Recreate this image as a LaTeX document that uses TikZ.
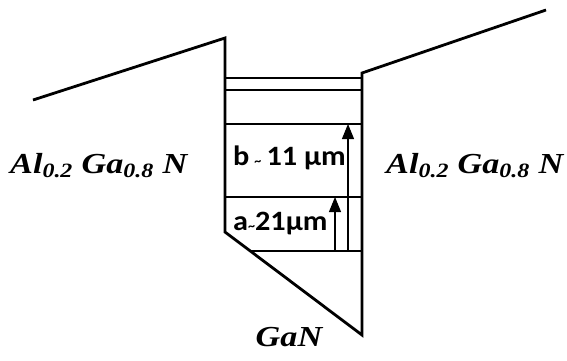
\documentclass[tikz,border=0pt]{standalone}
\usepackage{graphicx}
\usepackage{fontspec}
\setmainfont{Liberation Serif}
\newfontfamily\calfont{Carlito}
\usetikzlibrary{arrows.meta,positioning,calc}
\newcommand{\tld}{{\fontsize{13}{13}\selectfont\textasciitilde}}
\newcommand{\wide}[2][1.18]{\scalebox{#1}[1]{#2}}

\begin{document}
\begin{tikzpicture}[x=1pt,y=-1pt,
  band/.style={line width=2.8pt,line join=miter},
  level/.style={line width=1.1pt},
  arr/.style={-{Triangle[length=15pt,width=12pt]},line width=1.1pt},
  alloy/.style={font=\fontsize{29}{32}\selectfont\bfseries\itshape,inner sep=0pt,anchor=base west},
  depth/.style={font=\calfont\fontsize{28}{30}\selectfont\bfseries,inner sep=0pt,anchor=base west}
]
\useasboundingbox (0,0) rectangle (567,360);
% band edge profile
\coordinate (lo) at (33,100);
\coordinate (lt) at (225,38);
\coordinate (lb) at (225,232);
\coordinate (rb) at (362,335);
\coordinate (rt) at (362,73);
\coordinate (ro) at (546,10);
\draw[band] (lo)--(lt)--(lb)--(rb)--(rt)--(ro);
% levels in the well
\foreach \y in {78,90,124,197}
  \draw[level] (lt |- 0,\y) -- (rt |- 0,\y);
\path (lb) -- (rb) coordinate[pos=0.184] (e0);
\draw[level] (e0) -- (rt |- e0);
% transitions
\coordinate (a0) at (335,251);
\coordinate (a1) at (335,197);
\coordinate (b0) at (348,251);
\coordinate (b1) at (348,124);
\draw[arr] (a0) -- (a1);
\draw[arr] (b0) -- (b1);
\node[depth] (b) at (233,165) {\wide[1.08]{b\,\tld\,11 µm}};
\node[depth] (a) at (233,230) {\wide[1.08]{a\tld21µm}};
% layers
\node[alloy] (left) at (10,173) {\wide{Al\textsubscript{0.2} Ga\textsubscript{0.8} N}};
\node[alloy] (right) at (386,173) {\wide{Al\textsubscript{0.2} Ga\textsubscript{0.8} N}};
\node[alloy,anchor=base] (gan) at (289,346) {\wide{GaN}};
\end{tikzpicture}
\end{document}
